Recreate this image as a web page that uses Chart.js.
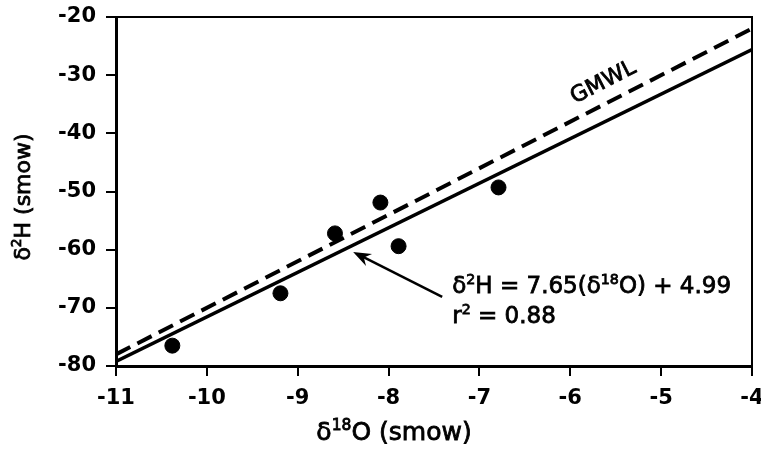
<!DOCTYPE html>
<html>
<head>
<meta charset="utf-8">
<script src="https://cdn.jsdelivr.net/npm/chart.js@4"></script>
<style>
  html, body { margin: 0; padding: 0; background: #fff; }
  #wrap { width: 761px; height: 449px; }
</style>
</head>
<body>
<div id="wrap"><canvas id="isoChart" width="761" height="449"></canvas></div>
<script>
// samples
const sampleX = [-10.38, -9.19, -8.59, -8.09, -7.89, -6.79];
const sampleY = [-76.5, -67.5, -57.2, -51.9, -59.4, -49.3];

// line end points
const lineX = [-11, -4];
const fitY = [-79.2, -25.6];
const gmwlY = [-78, -22];

const xTicks = [-11, -10, -9, -8, -7, -6, -5, -4];
const yTicks = [-80, -70, -60, -50, -40, -30, -20];

const FONT = "'DejaVu Sans', sans-serif";

const toPts = (xs, ys) => xs.map((x, i) => ({ x, y: ys[i] }));

// draw text pieces, some of them as superscripts (slightly heavier, like the scan)
const drawRich = (ctx, parts, x, y, size) => {
  let cx = x;
  ctx.lineWidth = 0.8;
  parts.forEach(([txt, sup]) => {
    const s = sup ? size * 0.62 : size;
    ctx.font = `${s}px ${FONT}`;
    const yy = sup ? y - size * 0.4 : y;
    ctx.fillText(txt, cx, yy);
    ctx.strokeText(txt, cx, yy);
    cx += ctx.measureText(txt).width;
  });
  return cx - x;
};
const richWidth = (ctx, parts, size) => {
  let w = 0;
  parts.forEach(([txt, sup]) => {
    ctx.font = `${sup ? size * 0.62 : size}px ${FONT}`;
    w += ctx.measureText(txt).width;
  });
  return w;
};

const noPad = (s) => {
  s.paddingLeft = 0;
  s.paddingRight = 0;
  s.paddingTop = 0;
  s.paddingBottom = 0;
};

const extras = {
  id: "extras",
  afterDraw(chart) {
    const { ctx, chartArea: a, scales } = chart;
    const sx = (v) => scales.x.getPixelForValue(v);
    const sy = (v) => scales.y.getPixelForValue(v);
    ctx.save();
    ctx.fillStyle = "#000";
    ctx.strokeStyle = "#000";

    // frame top and right
    ctx.lineWidth = 2;
    ctx.beginPath();
    ctx.moveTo(a.left, a.top);
    ctx.lineTo(a.right, a.top);
    ctx.lineTo(a.right, a.bottom);
    ctx.stroke();

    // arrow to the fitted line
    const tx = sx(-8.39), ty = sy(-60.4);
    const fx = sx(-7.41), fy = sy(-68.1);
    const ang = Math.atan2(ty - fy, tx - fx);
    ctx.lineWidth = 2.5;
    ctx.beginPath();
    ctx.moveTo(fx, fy);
    ctx.lineTo(tx - 10 * Math.cos(ang), ty - 10 * Math.sin(ang));
    ctx.stroke();
    ctx.beginPath();
    ctx.moveTo(tx, ty);
    ctx.lineTo(tx - 19 * Math.cos(ang - 0.36), ty - 19 * Math.sin(ang - 0.36));
    ctx.lineTo(tx - 12 * Math.cos(ang), ty - 12 * Math.sin(ang));
    ctx.lineTo(tx - 19 * Math.cos(ang + 0.36), ty - 19 * Math.sin(ang + 0.36));
    ctx.closePath();
    ctx.fill();

    // equation
    ctx.textBaseline = "alphabetic";
    ctx.textAlign = "left";
    const ex = sx(-7.3);
    drawRich(ctx, [["δ"], ["2", 1], ["H = 7.65(δ"], ["18", 1], ["O) + 4.99"]], ex, sy(-67.45), 23);
    drawRich(ctx, [["r"], ["2", 1], [" = 0.88"]], ex, sy(-72.6), 23);

    // GMWL label along the dashed line
    ctx.save();
    ctx.translate(sx(-5.95), sy(-34.9));
    ctx.rotate(Math.atan2(sy(-22) - sy(-78), sx(-4) - sx(-11)));
    drawRich(ctx, [["GMWL"]], 0, 0, 22);
    ctx.restore();

    // axis titles
    const xt = [["δ"], ["18", 1], ["O (smow)"]];
    drawRich(ctx, xt, 394 - richWidth(ctx, xt, 25) / 2, 440, 25);
    const yt = [["δ"], ["2", 1], ["H (smow)"]];
    ctx.save();
    ctx.translate(30, 197);
    ctx.rotate(-Math.PI / 2);
    drawRich(ctx, yt, -richWidth(ctx, yt, 22) / 2, 0, 22);
    ctx.restore();

    ctx.restore();
  },
};

new Chart(document.getElementById("isoChart").getContext("2d"), {
  type: "scatter",
  data: {
    datasets: [
      {
        label: "samples",
        data: toPts(sampleX, sampleY),
        backgroundColor: "#000",
        borderColor: "#000",
        pointRadius: 7.5,
        order: 0,
      },
      {
        label: "fit",
        data: toPts(lineX, fitY),
        showLine: true,
        borderColor: "#000",
        borderWidth: 3.5,
        pointRadius: 0,
        order: 1,
      },
      {
        label: "GMWL",
        data: toPts(lineX, gmwlY),
        showLine: true,
        borderColor: "#000",
        borderWidth: 4,
        borderDash: [16, 8],
        pointRadius: 0,
        order: 2,
      },
    ],
  },
  options: {
    responsive: false,
    animation: false,
    events: [],
    layout: { padding: { top: 17, right: 9, left: 0, bottom: 0 } },
    plugins: { legend: { display: false }, tooltip: { enabled: false } },
    scales: {
      x: {
        type: "linear",
        min: xTicks[0],
        max: xTicks[xTicks.length - 1],
        afterBuildTicks: (s) => { s.ticks = xTicks.map((v) => ({ value: v })); },
        afterFit: (s) => { s.height = 83; noPad(s); },
        border: { display: true, color: "#000", width: 3 },
        grid: { drawOnChartArea: false, drawTicks: true, tickLength: 10, color: "#000", lineWidth: 2 },
        ticks: { color: "#000", padding: 10, font: { family: FONT, size: 21, weight: "bold" } },
      },
      y: {
        type: "linear",
        min: yTicks[0],
        max: yTicks[yTicks.length - 1],
        afterBuildTicks: (s) => { s.ticks = yTicks.map((v) => ({ value: v })); },
        afterFit: (s) => { s.width = 116; noPad(s); },
        border: { display: true, color: "#000", width: 3 },
        grid: { drawOnChartArea: false, drawTicks: true, tickLength: 10, color: "#000", lineWidth: 2 },
        ticks: { color: "#000", padding: 10, font: { family: FONT, size: 21, weight: "bold" } },
      },
    },
  },
  plugins: [extras],
});
</script>
</body>
</html>
